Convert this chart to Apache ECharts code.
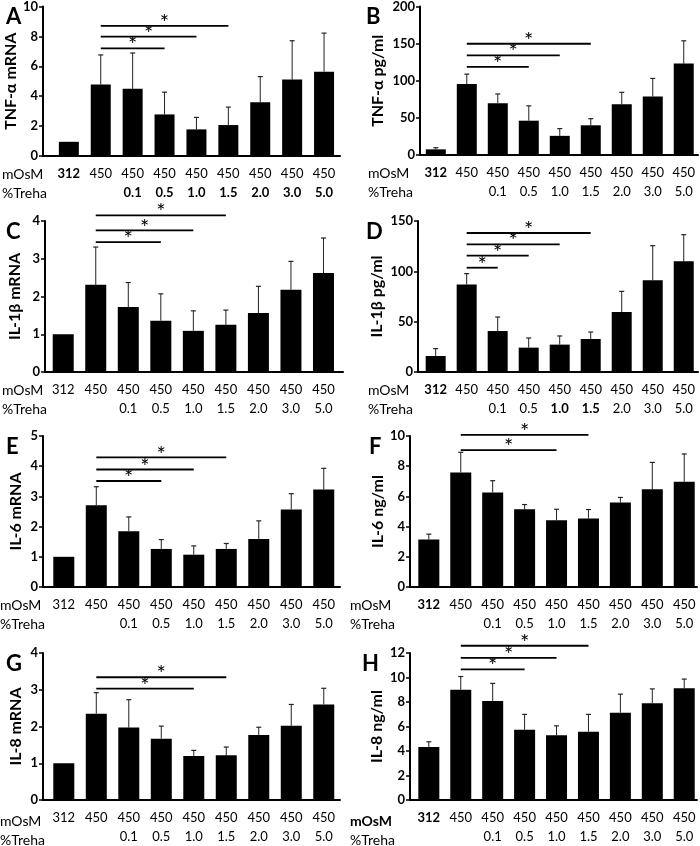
<!DOCTYPE html>
<html>
<head>
<meta charset="utf-8">
<script src="https://cdn.jsdelivr.net/npm/echarts/dist/echarts.min.js"></script>
<style>
html,body{margin:0;padding:0;background:#fff;}
#chart{width:700px;height:846px;}
</style>
</head>
<body>
<div id="chart"></div>
<script>
// ---- categories / tick labels ----
const mosm  = ['312','450','450','450','450','450','450','450','450'];
const treha = ['','','0.1','0.5','1.0','1.5','2.0','3.0','5.0'];
const rowHeads = ['mOsM','%Treha'];

// ---- series values (mean, SD), significance bars [from, to, y] ----
const aMean = [0.95, 4.78, 4.49, 2.78, 1.78, 2.07, 3.6, 5.11, 5.64];
const aSD   = [0, 1.98, 2.4, 1.49, 0.8, 1.2, 1.71, 2.6, 2.58];
const aSig  = [[1,3,7.2],[1,4,7.98],[1,5,8.7]];

const bMean = [7.6, 95.6, 69.8, 46.2, 25.8, 40, 68.4, 78.7, 123.1];
const bSD   = [2.2, 13.3, 12.4, 20, 9.8, 8.9, 16, 24.4, 30.7];
const bSig  = [[1,3,118.7],[1,4,134.2],[1,5,149.8]];

const cMean = [1.0, 2.31, 1.72, 1.36, 1.09, 1.25, 1.56, 2.18, 2.62];
const cSD   = [0, 1.0, 0.65, 0.71, 0.53, 0.39, 0.71, 0.75, 0.93];
const cSig  = [[1,3,3.44],[1,4,3.75],[1,5,4.15]];

const dMean = [15.9, 86.8, 40.7, 24.2, 27.2, 32.8, 59.6, 91.1, 109.9];
const dSD   = [7.3, 10.9, 13.9, 9.6, 8.6, 6.9, 20.5, 34.4, 26.5];
const dSig  = [[1,2,103.6],[1,3,115.6],[1,4,126.8],[1,5,138.1]];

const eMean = [1.0, 2.71, 1.85, 1.26, 1.07, 1.26, 1.59, 2.57, 3.23];
const eSD   = [0, 0.61, 0.47, 0.31, 0.29, 0.18, 0.6, 0.52, 0.7];
const eSig  = [[1,3,3.51],[1,4,3.89],[1,5,4.29]];

const fMean = [3.14, 7.59, 6.26, 5.15, 4.42, 4.54, 5.6, 6.48, 6.97];
const fSD   = [0.36, 1.33, 0.78, 0.31, 0.73, 0.59, 0.33, 1.77, 1.84];
const fSig  = [[1,4,9.07],[1,5,10.07]];

const gMean = [1.0, 2.35, 1.97, 1.67, 1.2, 1.22, 1.77, 2.02, 2.6];
const gSD   = [0, 0.57, 0.76, 0.34, 0.15, 0.22, 0.21, 0.58, 0.44];
const gSig  = [[1,4,3.03],[1,5,3.34]];

const hMean = [4.32, 9.01, 8.08, 5.73, 5.28, 5.57, 7.12, 7.89, 9.12];
const hSD   = [0.43, 1.07, 1.44, 1.26, 0.77, 1.42, 1.52, 1.18, 0.75];
const hSig  = [[1,3,10.67],[1,4,11.6],[1,5,12.59]];

// ---- panel layout / styling ----
const FONT = 'Lato, "Open Sans", sans-serif';
const panels = [
  {letter:'A', name:'TNF-α mRNA',  mean:aMean, sd:aSD, sig:aSig, ymax:10,  step:2,  grid:{left:43, top:6,   width:297, height:150}, xmin:-0.81, xmax:8.5,  bw:20, gap:19, lx:1,   hx:2,   bTop:[0], bBot:[2,3,4,5,6,7,8], bHead:false},
  {letter:'B', name:'TNF-α pg/ml', mean:bMean, sd:bSD, sig:bSig, ymax:200, step:50, grid:{left:420,top:6,   width:278, height:149}, xmin:-0.51, xmax:8.46, bw:20, gap:34, lx:361, hx:368, bTop:[0], bBot:[], bHead:false},
  {letter:'C', name:'IL-1β mRNA',  mean:cMean, sd:cSD, sig:cSig, ymax:4,   step:1,  grid:{left:45, top:221, width:298, height:151}, xmin:-0.56, xmax:8.6,  bw:21, gap:22, lx:1,   hx:2,   bTop:[], bBot:[], bHead:false},
  {letter:'D', name:'IL-1β pg/ml', mean:dMean, sd:dSD, sig:dSig, ymax:150, step:50, grid:{left:418,top:221, width:280, height:151}, xmin:-0.57, xmax:8.46, bw:20, gap:33, lx:361, hx:368, bTop:[0], bBot:[4,5], bHead:false},
  {letter:'E', name:'IL-6 mRNA',   mean:eMean, sd:eSD, sig:eSig, ymax:5,   step:1,  grid:{left:43, top:436, width:297, height:151}, xmin:-0.64, xmax:8.5,  bw:21, gap:19, lx:1,   hx:0,   bTop:[], bBot:[], bHead:false},
  {letter:'F', name:'IL-6 ng/ml',  mean:fMean, sd:fSD, sig:fSig, ymax:10,  step:2,  grid:{left:410,top:436, width:287, height:151}, xmin:-0.59, xmax:8.4,  bw:21, gap:24, lx:364, hx:350, bTop:[0], bBot:[], bHead:false},
  {letter:'G', name:'IL-8 mRNA',   mean:gMean, sd:gSD, sig:gSig, ymax:4,   step:1,  grid:{left:43, top:653, width:297, height:150}, xmin:-0.64, xmax:8.5,  bw:21, gap:19, lx:1,   hx:0,   bTop:[], bBot:[], bHead:false},
  {letter:'H', name:'IL-8 ng/ml',  mean:hMean, sd:hSD, sig:hSig, ymax:12,  step:2,  grid:{left:410,top:653, width:287, height:150}, xmin:-0.59, xmax:8.4,  bw:21, gap:25, lx:357, hx:350, bTop:[0], bBot:[], bHead:true}
];

const idx = mosm.map((_, i) => i);
const option = {animation:false, title:[], grid:[], xAxis:[], yAxis:[], series:[], graphic:[]};
const seg = (s, bold) => s === '' ? '{n| }' : '{' + (bold ? 'b' : 'n') + '|' + s + '}';

panels.forEach((p, k) => {
  option.grid.push(Object.assign({containLabel:false}, p.grid));
  option.title.push({text:p.letter, left:p.lx, top:p.grid.top - 5,
    textStyle:{fontFamily:FONT, fontSize:22, fontWeight:'bold', color:'#000'}});
  option.xAxis.push({
    type:'value', gridIndex:k, min:p.xmin, max:p.xmax,
    splitLine:{show:false}, axisTick:{show:false},
    axisLine:{show:true, onZero:false, lineStyle:{color:'#000', width:2}},
    axisLabel:{customValues:idx, margin:9, lineHeight:18.5, color:'#000',
      fontFamily:FONT, fontSize:13,
      rich:{
        n:{fontFamily:FONT, fontSize:13, color:'#000', lineHeight:18.5},
        b:{fontFamily:FONT, fontSize:13, color:'#000', lineHeight:18.5, fontWeight:'bold'}
      },
      formatter:(v) => {
        const i = Math.round(v);
        return seg(mosm[i], p.bTop.includes(i)) + '\n' + seg(treha[i], p.bBot.includes(i));
      }}
  });
  option.yAxis.push({
    type:'value', gridIndex:k, min:0, max:p.ymax, interval:p.step,
    name:p.name, nameLocation:'middle', nameGap:p.gap,
    nameTextStyle:{fontFamily:FONT, fontSize:16, fontWeight:'bold', color:'#000'},
    splitLine:{show:false},
    axisLine:{show:true, onZero:false, lineStyle:{color:'#000', width:2}},
    axisTick:{show:true, length:4, lineStyle:{color:'#000', width:1.5}},
    axisLabel:{color:'#000', fontFamily:FONT, fontSize:13, fontWeight:'bold', margin:5}
  });
  const bw = p.bw;
  // bars (drawn through the axis scales)
  option.series.push({
    type:'custom', xAxisIndex:k, yAxisIndex:k, z:3,
    encode:{x:0, y:1},
    data:p.mean.map((m, i) => [i, m]),
    renderItem:(params, api) => {
      const base = api.coord([api.value(0), 0]);
      const top = api.coord([api.value(0), api.value(1)]);
      return {type:'rect', shape:{x:top[0] - bw / 2, y:top[1], width:bw, height:base[1] - top[1]},
        style:{fill:'#000'}};
    }
  });
  // error bars
  option.series.push({
    type:'custom', xAxisIndex:k, yAxisIndex:k, z:2,
    encode:{x:0, y:[1, 2]},
    data:p.mean.map((m, i) => [i, m, m + p.sd[i]]),
    renderItem:(params, api) => {
      const x = api.value(0);
      const lo = api.coord([x, api.value(1)]);
      const hi = api.coord([x, api.value(2)]);
      if (lo[1] - hi[1] < 0.5) return null;
      return {type:'group', children:[
        {type:'line', shape:{x1:lo[0], y1:lo[1], x2:hi[0], y2:hi[1]}, style:{stroke:'#222', lineWidth:1}},
        {type:'line', shape:{x1:hi[0]-2.5, y1:hi[1], x2:hi[0]+2.5, y2:hi[1]}, style:{stroke:'#222', lineWidth:1.2}}
      ]};
    }
  });
  // significance lines
  option.series.push({
    type:'custom', xAxisIndex:k, yAxisIndex:k, z:4, clip:false,
    encode:{x:[0, 1], y:2},
    data:p.sig,
    renderItem:(params, api) => {
      const a = api.coord([api.value(0), api.value(2)]);
      const b = api.coord([api.value(1), api.value(2)]);
      return {type:'group', children:[
        {type:'line', shape:{x1:a[0], y1:a[1], x2:b[0], y2:b[1]}, style:{stroke:'#000', lineWidth:1.8}},
        {type:'text', x:(a[0] + b[0]) / 2, y:a[1] + 8,
          style:{text:'*', fill:'#000', font:'22px ' + FONT, align:'center', verticalAlign:'bottom'}}
      ]};
    }
  });
  // row headers
  const zero = p.grid.top + p.grid.height;
  rowHeads.forEach((h, r) => {
    const w = (p.bHead && r === 0) ? 'bold ' : '';
    option.graphic.push({type:'text', x:p.hx, y:zero + 18.5 + r * 18.5,
      style:{text:h, fill:'#000', font:w + '14px ' + FONT, verticalAlign:'middle', align:'left'}});
  });
});

const chart = echarts.init(document.getElementById('chart'), null, {renderer:'canvas'});
chart.setOption(option);
</script>
</body>
</html>
